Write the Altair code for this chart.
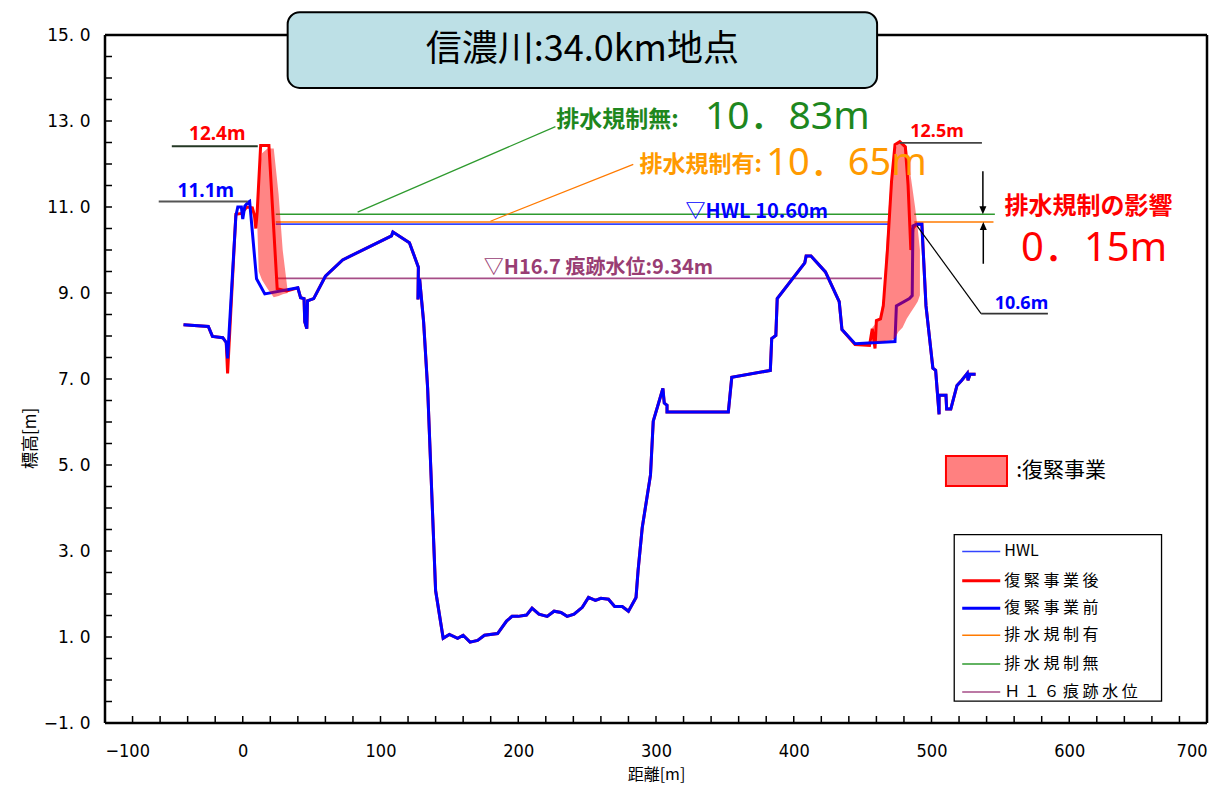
import altair as alt
import pandas as pd

W, H = 1102, 688
FONT_JP = "Noto Sans CJK JP"
FONT_NUM = "Noto Sans, Noto Sans CJK JP"
FONT_AX = "Liberation Sans Narrow, DejaVu Sans Condensed, Liberation Sans"

# ---------------- data ----------------
X_DOMAIN = [-100, 700]
Y_DOMAIN = [-1, 15]
X_LABELS = list(range(-100, 701, 100))
Y_LABELS = list(range(-1, 16, 2))
X_MINOR = list(range(-100, 701, 20))
Y_MINOR = [v / 2 for v in range(-2, 31)]

# 復緊事業前 (before)
BEFORE_X = [-43, -25, -22, -14.5, -12, -11, -5, -3.6, -1, 0, 1.5, 3.6, 5, 10, 16, 40,
            42, 44.5, 45, 46.5, 47, 51.5, 60, 72.5, 108, 109, 121, 127.5, 127.2, 128.4,
            131.3, 134.2, 140, 145.5, 150, 156, 160, 165, 170.5, 175.5, 185, 191.5,
            195.5, 200, 206, 210, 215, 221, 226, 231, 235.5, 240.5, 246.5, 251, 256,
            260, 265.5, 270, 275.5, 280, 285.5, 287, 290, 296, 298, 305, 306, 308, 308,
            352.5, 355, 383, 384, 387, 388, 408, 409, 412.5, 423, 433, 435, 444.5,
            473.5, 474.5, 484, 486, 486.5, 489, 493, 496, 501, 503, 505.5, 505.5,
            510.5, 511, 514, 518.5, 522, 526, 526.5, 528, 532]
BEFORE_Y = [8.26, 8.22, 7.99, 7.96, 7.85, 7.48, 10.79, 11.0, 11.0, 10.72, 11.02, 11.1, 11.13,
            9.33, 8.98, 9.12, 8.89, 8.87, 8.33, 8.17, 8.82, 8.87, 9.39, 9.77, 10.33, 10.42,
            10.17, 9.6, 8.85, 9.33, 8.33, 6.8, 2.08, 0.97, 1.06, 0.97, 1.04, 0.88, 0.92,
            1.04, 1.08, 1.37, 1.48, 1.48, 1.51, 1.67, 1.53, 1.48, 1.60, 1.57, 1.48, 1.53,
            1.69, 1.92, 1.85, 1.90, 1.88, 1.71, 1.71, 1.60, 1.92, 2.55, 3.54, 4.77, 6.02,
            6.78, 6.44, 6.39, 6.23, 6.23, 7.04, 7.2, 7.94, 8.01, 8.87, 9.7, 9.86, 9.86,
            9.49, 8.80, 8.15, 7.82, 7.87, 8.7, 8.87, 8.94, 10.56, 10.6, 10.6, 8.7, 7.25,
            7.2, 6.18, 6.62, 6.62, 6.3, 6.3, 6.85, 6.97, 7.13, 6.97, 7.11, 7.11]

# 復緊事業後 (after)
AFTER_X = [-43, -25, -22, -14.5, -12, -11, -5, -1, 3, 7, 8.5, 9.5, 10.5, 13, 19, 25, 32, 40,
           42, 44.5, 45, 46.5, 47, 51.5, 60, 72.5, 108, 109, 121, 127.5, 127.2, 128.4,
           131.3, 134.2, 140, 145.5, 150, 156, 160, 165, 170.5, 175.5, 185, 191.5,
           195.5, 200, 206, 210, 215, 221, 226, 231, 235.5, 240.5, 246.5, 251, 256,
           260, 265.5, 270, 275.5, 280, 285.5, 287, 290, 296, 298, 305, 306, 308, 308,
           352.5, 355, 383, 384, 387, 388, 408, 409, 412.5, 423, 433, 435, 444.5,
           455, 457, 459, 460, 463, 465, 468, 471, 473.5, 477, 481, 483, 485, 486.5,
           489, 493, 496, 501, 503, 505.5, 505.5, 510.5, 511, 514, 518.5, 522, 526,
           526.5, 528, 532]
AFTER_Y = [8.26, 8.22, 7.99, 7.96, 7.85, 7.13, 10.83, 10.85, 11.0, 10.98, 10.8, 10.5, 10.9,
           12.43, 12.43, 9.1, 9.05, 9.12, 8.89, 8.87, 8.33, 8.17, 8.82, 8.87, 9.39, 9.77,
           10.33, 10.42, 10.17, 9.6, 8.85, 9.33, 8.33, 6.8, 2.08, 0.97, 1.06, 0.97, 1.04,
           0.88, 0.92, 1.04, 1.08, 1.37, 1.48, 1.48, 1.51, 1.67, 1.53, 1.48, 1.60, 1.57,
           1.48, 1.53, 1.69, 1.92, 1.85, 1.90, 1.88, 1.71, 1.71, 1.60, 1.92, 2.55, 3.54,
           4.77, 6.02, 6.78, 6.44, 6.39, 6.23, 6.23, 7.04, 7.2, 7.94, 8.01, 8.87, 9.7,
           9.86, 9.86, 9.49, 8.80, 8.15, 7.80, 7.78, 8.17, 7.71, 8.36, 8.4, 8.7, 10.0,
           11.6, 12.45, 12.52, 12.4, 11.5, 10.0, 10.5, 10.6, 10.6, 8.7, 7.25, 7.2, 6.18,
           6.62, 6.62, 6.3, 6.3, 6.85, 6.97, 7.13, 6.97, 7.11, 7.11]

# 復緊事業 (levee raising) shaded areas
LEFT_FILL_X = [10.2, 11.6, 14, 18, 22.5, 26, 29, 32.6]
LEFT_FILL_TOP = [10.95, 11.8, 12.25, 12.36, 12.36, 11.3, 10.0, 9.05]
LEFT_FILL_BOT = [10.95, 9.5, 9.3, 9.1, 8.9, 8.93, 8.97, 9.0]
RIGHT_FILL_X = [457, 462.5, 465, 467, 469, 471, 473.5, 476, 479, 482, 485, 488, 490, 491.6]
RIGHT_FILL_TOP = [8.2, 8.4, 8.9, 10.0, 11.0, 11.8, 12.35, 12.5, 12.48, 12.4, 11.7, 11.02, 10.5, 10.0]
RIGHT_FILL_BOT = [7.87, 7.87, 7.88, 7.89, 7.9, 7.9, 7.95, 8.1, 8.2, 8.4, 8.55, 8.7, 8.8, 8.95]

# water levels
HWL = 10.60
NO_REG = 10.83
REG = 10.65
H16 = 9.34
HWL_SEG = [(24, 469)]
NO_REG_SEG = [(24, 469.5), (487.5, 546)]
REG_SEG = [(24, 469), (487.5, 545)]
H16_SEG = [(25, 464)]

C_HWL = "#3344ff"
C_GREEN = "#2e9a2e"
C_ORANGE = "#ff7a00"
C_H16 = "#a64d87"

# ---------------- helpers ----------------
XS = alt.Scale(domain=X_DOMAIN, nice=False, zero=False)
YS = alt.Scale(domain=Y_DOMAIN, nice=False, zero=False)
XA = alt.Axis(values=X_LABELS, ticks=False, grid=False, domain=False,
              labelFont=FONT_AX, labelFontSize=18, labelColor="black", labelPadding=19,
              title="距離[m]", titleFont=FONT_JP, titleFontSize=16, titleFontWeight="normal",
              titleColor="black", titlePadding=6)
YA = alt.Axis(values=Y_LABELS, ticks=False, grid=False, domain=False,
              labelExpr="replace(format(datum.value, '.1f'), '.', '. ')",
              labelFont="DejaVu Sans", labelFontSize=17, labelColor="black", labelPadding=15,
              title="標高[m]", titleFont=FONT_JP, titleFontSize=17, titleFontWeight="normal",
              titleColor="black", titleAngle=-90, titleX=-75, titleY=403,
              titleAlign="center", titleBaseline="middle")


def X(f):
    return alt.X(f, type="quantitative", scale=XS, axis=XA)


def Y(f):
    return alt.Y(f, type="quantitative", scale=YS, axis=YA)


def segs(level, pairs):
    return pd.DataFrame({"x": [a for a, b in pairs], "x2": [b for a, b in pairs],
                         "y": [level] * len(pairs)})


def hrule(df, color, width):
    return alt.Chart(df).mark_rule(color=color, strokeWidth=width).encode(
        x=X("x"), x2="x2", y=Y("y"))


def seg_rule(x1, y1, x2, y2, color, width):
    df = pd.DataFrame({"x": [x1], "y": [y1], "x2": [x2], "y2": [y2]})
    return alt.Chart(df).mark_rule(color=color, strokeWidth=width).encode(
        x=X("x"), y=Y("y"), x2="x2", y2="y2")


def txt(t, x, y, color, size, weight="normal", align="left", font=FONT_JP):
    df = pd.DataFrame({"x": [x], "y": [y], "t": [t]})
    return alt.Chart(df).mark_text(align=align, baseline="middle", color=color,
                                   fontSize=size, fontWeight=weight, font=font).encode(
        x=X("x"), y=Y("y"), text="t:N")


def profile(xs, ys, color, width):
    df = pd.DataFrame({"x": xs, "y": ys, "i": range(len(xs))})
    return alt.Chart(df).mark_line(color=color, strokeWidth=width, strokeJoin="miter").encode(
        x=X("x"), y=Y("y"), order="i:Q")


def fill(xs, top, bot):
    df = pd.DataFrame({"x": xs, "top": top, "bot": bot})
    return alt.Chart(df).mark_area(color="#ff0000", opacity=0.48).encode(
        x=X("x"), y=Y("top"), y2="bot")


layers = []

# frame
frame = pd.DataFrame({"x": [-100, -100, -100, 700], "x2": [700, 700, -100, 700],
                      "y": [15, -1, -1, -1], "y2": [15, -1, 15, 15]})
layers.append(alt.Chart(frame).mark_rule(color="black", strokeWidth=2.5).encode(
    x=X("x"), x2="x2", y=Y("y"), y2="y2"))

# inward ticks
layers.append(alt.Chart(pd.DataFrame({"v": Y_MINOR})).mark_rule(color="black", strokeWidth=1.5)
              .encode(y=Y("v"), x=alt.value(0), x2=alt.value(7)))
layers.append(alt.Chart(pd.DataFrame({"v": X_MINOR})).mark_rule(color="black", strokeWidth=1.5)
              .encode(x=X("v"), y=alt.value(H), y2=alt.value(H - 7)))

# water level lines
layers.append(hrule(segs(H16, H16_SEG), C_H16, 1.6))
layers.append(hrule(segs(NO_REG, NO_REG_SEG), C_GREEN, 1.6))
layers.append(hrule(segs(REG, REG_SEG), C_ORANGE, 1.6))
layers.append(hrule(segs(HWL, HWL_SEG), C_HWL, 1.8))

# leader lines
layers.append(seg_rule(83.4, 10.88, 227, 12.87, C_GREEN, 1.2))
layers.append(seg_rule(179.8, 10.67, 283.5, 11.99, C_ORANGE, 1.2))

# profiles
layers.append(profile(AFTER_X, AFTER_Y, "#ff0000", 3))
layers.append(profile(BEFORE_X, BEFORE_Y, "#0000ff", 3))

# shaded areas
layers.append(fill(LEFT_FILL_X, LEFT_FILL_TOP, LEFT_FILL_BOT))
layers.append(fill(RIGHT_FILL_X, RIGHT_FILL_TOP, RIGHT_FILL_BOT))

# crest height annotations
layers.append(seg_rule(-51.5, 12.41, 10.9, 12.41, "#243824", 2))
layers.append(seg_rule(-61, 11.13, 3.6, 11.13, "#555555", 2))
layers.append(seg_rule(477, 12.49, 536.6, 12.49, "#444444", 1.8))
layers.append(seg_rule(489.5, 10.56, 536, 8.52, "black", 1.2))
layers.append(seg_rule(536, 8.52, 584.5, 8.52, "#333333", 1.8))
layers.append(txt("12.4m", -18.5, 12.69, "#ff0000", 19, "bold", "center", FONT_NUM))
layers.append(txt("11.1m", -26.8, 11.37, "#0000ff", 19, "bold", "center", FONT_NUM))
layers.append(txt("12.5m", 504, 12.75, "#ff0000", 18, "bold", "center", FONT_NUM))
layers.append(txt("10.6m", 565.3, 8.75, "#0000ff", 18, "bold", "center", FONT_NUM))

# arrows (排水規制の影響)
layers.append(seg_rule(537.3, 11.83, 537.3, 10.95, "black", 1.5))
layers.append(seg_rule(537.6, 9.68, 537.6, 10.6, "black", 1.5))
arrows = pd.DataFrame({"x": [537.3, 537.6], "y": [NO_REG, REG],
                       "s": ["M0,0L-0.7,-1.6L0.7,-1.6Z", "M0,0L-0.7,1.6L0.7,1.6Z"]})
layers.append(alt.Chart(arrows).mark_point(filled=True, color="black", size=100, opacity=1)
              .encode(x=X("x"), y=Y("y"), shape=alt.Shape("s:N", scale=None)))

# level texts
layers.append(txt("排水規制無:", 227.5, 13.03, "#1e871e", 23, "bold"))
layers.append(txt("10．83m", 335.5, 13.1, "#1e871e", 39, "normal", "left", FONT_NUM))
layers.append(txt("排水規制有:", 288, 11.97, "#ff9a00", 23, "bold"))
layers.append(txt("10．65m", 380, 12.0, "#ff9a00", 38, "normal", "left", FONT_NUM))
layers.append(txt("▽HWL 10.60m", 321.5, 10.88, "#0000ff", 20, "bold"))
layers.append(txt("▽H16.7 痕跡水位:9.34m", 175, 9.58, "#993d73", 20, "bold"))
layers.append(txt("排水規制の影響", 553, 11.0, "#ff0000", 24, "bold"))
layers.append(txt("0．15m", 565, 10.02, "#ff0000", 40, "normal", "left", FONT_NUM))

# title box
tbox = pd.DataFrame({"x": [32.6], "x2": [460.5], "y": [15.53], "y2": [13.77]})
layers.append(alt.Chart(tbox).mark_rect(fill="#bde0e6", stroke="black", strokeWidth=2,
                                        cornerRadius=12).encode(
    x=X("x"), x2="x2", y=Y("y"), y2="y2"))
layers.append(txt("信濃川:34.0km地点", 246.5, 14.65, "black", 36, "normal", "center"))

# 復緊事業 swatch
sw = pd.DataFrame({"x": [510.5], "x2": [554.8], "y": [5.21], "y2": [4.51]})
layers.append(alt.Chart(sw).mark_rect(fill="#ff8080", stroke="#ff0000", strokeWidth=2).encode(
    x=X("x"), x2="x2", y=Y("y"), y2="y2"))
layers.append(txt(":復緊事業", 561.5, 4.86, "black", 21, "normal"))

# legend
LEG_NAMES = ["HWL", "復 緊 事 業 後", "復 緊 事 業 前", "排 水 規 制 有", "排 水 規 制 無",
             "Ｈ １ ６ 痕 跡 水 位"]
LEG_COLORS = [C_HWL, "#ff0000", "#0000ff", C_ORANGE, C_GREEN, C_H16]
LEG_WIDTHS = [1.5, 3, 3, 1.5, 1.5, 1.5]
LEG_ROWS = [2.99, 2.31, 1.67, 1.04, 0.37, -0.28]
lbox = pd.DataFrame({"x": [516.5], "x2": [667], "y": [3.38], "y2": [-0.49]})
layers.append(alt.Chart(lbox).mark_rect(fill="white", stroke="black", strokeWidth=1.3).encode(
    x=X("x"), x2="x2", y=Y("y"), y2="y2"))
leg = pd.DataFrame({"x": [522.3] * 6, "x2": [549.9] * 6, "y": LEG_ROWS, "c": LEG_COLORS,
                    "w": LEG_WIDTHS, "t": LEG_NAMES})
layers.append(alt.Chart(leg).mark_rule().encode(
    x=X("x"), x2="x2", y=Y("y"), color=alt.Color("c:N", scale=None),
    strokeWidth=alt.StrokeWidth("w:Q", scale=None)))
layers.append(alt.Chart(leg).mark_text(align="left", baseline="middle", font=FONT_JP,
                                       fontSize=16, color="black").encode(
    x=alt.X("x2:Q", scale=XS, axis=XA), y=Y("y"), text="t:N", xOffset=alt.value(4)))

chart = alt.layer(*layers).properties(
    width=W, height=H,
    autosize=alt.AutoSizeParams(type="none"),
    padding={"left": 97, "top": 27, "right": 5, "bottom": 60},
).configure_view(stroke=None)

chart.save("out.html", embed_options={"renderer": "svg", "actions": False})
